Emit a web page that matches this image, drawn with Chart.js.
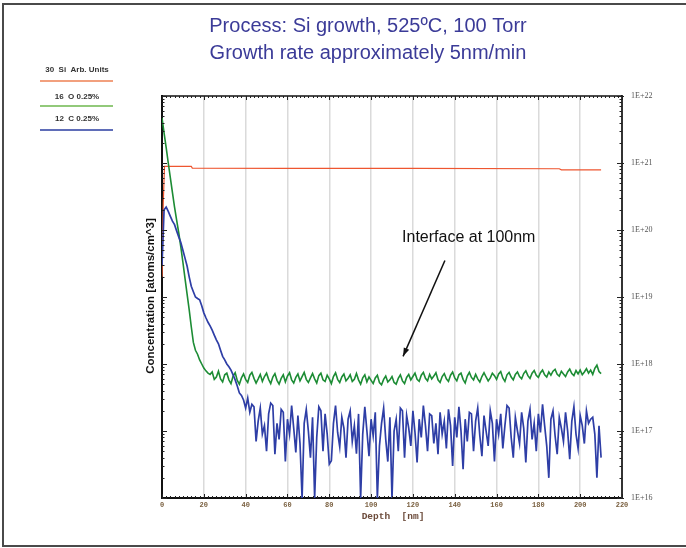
<!DOCTYPE html>
<html><head><meta charset="utf-8">
<script src="https://cdn.jsdelivr.net/npm/chart.js@4.4.1/dist/chart.umd.min.js"></script>
<style>html,body{margin:0;padding:0;background:#fff;}canvas{display:block;}</style>
</head><body>
<canvas id="c" width="686" height="548"></canvas>
<script>
// ---------- data ----------
const titleLines = ["Process: Si growth, 525\u00BAC, 100 Torr", "Growth rate approximately 5nm/min"];
const xTickLabels = ["0","20","40","60","80","100","120","140","160","180","200","220"];
const yDecadeLabels = ["1E+16","1E+17","1E+18","1E+19","1E+20","1E+21","1E+22"];
const legendLabels = ["30  Si  Arb. Units", "16  O 0.25%", "12  C 0.25%"];
const annotationText = "Interface at 100nm";

// 30Si (arbitrary units) — depth in nm and concentration
const siDepth = [0, 0.6, 1.2, 14, 14.5, 60, 120, 190, 191, 210];
const siValues = [2.0e19, 2.5e20, 8.9e20, 8.9e20, 8.4e20, 8.3e20, 8.3e20, 8.2e20, 7.9e20, 7.9e20];

// 16O, one reading per nm from 0 to 210 nm
const oxygenValues = [
  4.7e21, 2.8e21, 1.7e21, 1.0e21, 6.0e20, 3.6e20, 2.2e20, 1.4e20, 9.1e19, 5.6e19,
  3.3e19, 1.9e19, 1.1e19, 6.5e18, 3.6e18, 2.1e18, 1.6e18, 1.4e18, 1.15e18, 1.0e18,
  8.7e17, 7.9e17, 7.3e17,
  7.0e17, 7.6e17, 5.9e17, 6.4e17, 7.8e17, 6.0e17, 5.4e17,
  6.9e17, 7.3e17, 5.8e17, 5.1e17, 6.6e17, 7.4e17, 5.7e17, 5.0e17, 6.2e17, 7.1e17,
  5.9e17, 5.3e17, 6.8e17, 7.5e17, 6.1e17, 5.2e17, 6.0e17, 7.0e17, 5.5e17, 6.5e17,
  7.3e17, 5.9e17, 5.1e17, 6.4e17, 7.2e17, 5.7e17, 5.0e17, 6.1e17, 6.9e17, 5.4e17,
  6.6e17, 7.4e17, 5.8e17, 5.2e17, 6.3e17, 7.1e17, 5.6e17, 6.5e17, 7.5e17, 5.9e17,
  5.3e17, 6.2e17, 7.2e17, 6.0e17, 5.2e17, 6.7e17, 7.3e17, 5.8e17, 5.5e17, 6.8e17,
  6.0e17, 5.1e17, 6.5e17, 7.4e17, 5.9e17, 5.3e17, 6.4e17, 7.1e17, 5.6e17, 6.1e17,
  6.9e17, 5.5e17, 5.9e17, 7.2e17, 5.8e17, 5.0e17, 6.2e17, 6.9e17, 5.4e17, 6.4e17,
  5.7e17, 5.1e17, 6.2e17, 6.8e17, 5.3e17, 4.9e17, 5.9e17, 6.6e17, 5.4e17, 5.8e17,
  6.5e17, 5.3e17, 5.0e17, 6.1e17, 6.9e17, 5.6e17, 5.1e17, 6.3e17, 7.0e17, 5.8e17,
  6.5e17, 7.3e17, 5.9e17, 5.5e17, 6.8e17, 7.5e17, 6.1e17, 5.6e17, 7.0e17, 6.0e17,
  6.6e17, 7.4e17, 5.8e17, 5.3e17, 6.5e17, 7.2e17, 6.0e17, 5.5e17, 6.8e17, 7.6e17,
  6.2e17, 5.6e17, 6.9e17, 7.3e17, 5.9e17, 5.2e17, 6.6e17, 7.5e17, 6.3e17, 5.8e17,
  7.0e17, 6.0e17, 5.4e17, 6.5e17, 7.4e17, 6.4e17, 5.6e17, 6.2e17, 7.3e17, 6.7e17,
  5.9e17, 7.1e17, 7.7e17, 6.2e17, 5.5e17, 6.9e17, 7.5e17, 6.4e17, 5.8e17, 7.0e17,
  7.6e17, 6.5e17, 6.0e17, 7.2e17, 7.9e17, 6.7e17, 6.1e17, 7.3e17, 8.0e17, 6.8e17,
  6.3e17, 7.4e17, 8.1e17, 6.9e17, 6.4e17, 7.6e17, 6.8e17, 7.8e17, 8.3e17, 7.0e17,
  6.6e17, 7.8e17, 7.1e17, 6.5e17, 7.6e17, 8.4e17, 7.2e17, 6.7e17, 8.0e17, 7.1e17,
  8.1e17, 6.9e17, 7.6e17, 8.5e17, 7.3e17, 8.1e17, 7.0e17, 8.6e17, 9.6e17, 7.7e17,
  7.2e17
];

// 12C, one reading per nm from 0 to 210 nm (1e16 = no counts)
const carbonValues = [
  3.0e19, 2.0e20, 2.2e20, 1.9e20, 1.6e20, 1.36e20, 1.2e20, 9.7e19, 7.9e19, 6.5e19,
  5.0e19, 3.8e19, 2.9e19, 2.0e19, 1.45e19, 1.2e19, 1.0e19, 9.5e18, 9.1e18, 7.4e18,
  5.8e18, 4.9e18, 4.2e18, 3.7e18, 3.2e18, 2.7e18, 2.3e18, 2.0e18, 1.6e18, 1.3e18,
  1.15e18, 1.0e18, 9.1e17, 8.1e17, 6.9e17, 5.8e17, 4.7e17, 3.7e17, 3.4e17, 2.9e17,
  2.2e17, 3.1e17,
  1.9e17, 2.5e17, 2.3e17, 7.0e16, 1.4e17, 2.2e17, 9.0e16, 1.2e17,
  5.0e16, 1.8e17, 2.6e17, 2.4e17, 4.5e16, 1.3e17, 7.5e16, 2.1e17, 1.9e17, 3.5e16,
  1.5e17, 9.0e16, 2.4e17, 1.1e17, 4.8e16, 1.7e17, 6.5e16, 1.0e16, 1.3e17, 2.1e17,
  1.0e17, 4.0e16, 1.6e17, 1.0e16, 8.0e16, 2.3e17, 2.0e17, 5.0e16, 1.8e17, 9.0e16,
  3.2e16, 3.6e16, 1.3e17, 2.4e17, 9.5e16, 5.8e16, 1.6e17, 1.1e17, 4.0e16, 1.5e17,
  2.0e17, 7.0e16, 1.2e17, 4.6e16, 1.8e17, 1.0e16, 9.0e16, 2.3e17, 1.0e17, 4.2e16,
  1.5e17, 8.5e16, 1.9e17, 1.0e16, 6.0e16, 1.3e17, 2.2e17, 7.5e16, 3.5e16, 1.6e17,
  1.0e16, 1.0e17, 1.5e17, 5.0e16, 2.2e17, 2.0e17, 4.0e16, 1.7e17, 1.1e17, 6.0e16,
  2.0e17, 9.5e16, 3.4e16, 1.5e17, 8.0e16, 2.4e17, 1.2e17, 5.0e16, 1.8e17, 1.7e17,
  6.5e16, 1.3e17, 4.5e16, 1.9e17, 9.0e16, 1.4e17, 5.5e16, 2.1e17, 1.2e17, 3.0e16,
  1.6e17, 8.0e16, 2.3e17, 1.0e17, 2.7e16, 1.5e17, 7.0e16, 1.9e17, 1.8e17, 5.0e16,
  1.4e17, 2.2e17, 8.5e16, 4.2e16, 1.7e17, 1.0e17, 6.0e16, 2.0e17, 1.3e17, 3.5e16,
  1.5e17, 9.0e16, 1.8e17, 5.5e16, 1.2e17, 2.4e17, 2.2e17, 8.0e16, 4.0e16, 1.6e17,
  1.0e17, 6.5e16, 1.9e17, 1.1e17, 3.4e16, 1.4e17, 2.1e17, 7.5e16, 1.3e17, 5.0e16,
  1.8e17, 9.5e16, 2.5e17, 1.2e17, 6.0e16, 2.0e16, 1.5e17, 2.0e17, 8.5e16, 4.5e16,
  1.6e17, 1.1e17, 7.0e16, 1.9e17, 1.0e17, 3.8e16, 1.4e17, 2.3e17, 9.0e16, 5.5e16,
  1.7e17, 1.2e17, 6.5e16, 2.0e17, 1.3e17, 1.5e17, 1.6e17, 9.0e16, 2.0e16, 1.2e17,
  4.0e16
];

// annotation anchor points (depth nm, concentration)
const annotationTextAt = [114.8, 6.6e19];
const arrowFrom = [135.3, 3.5e19];
const arrowTo = [115.3, 1.3e18];

// ---------- build ----------
const oxygenDepth = oxygenValues.map((_, i) => i);
const carbonDepth = carbonValues.map((_, i) => i);
const toPts = (xs, ys) => xs.map((x, i) => ({x, y: ys[i]}));

const colors = {si: '#ee5630', o: '#1c8c34', c: '#2e3ea6'};
const legendColors = ['#f2a07e', '#92c97a', '#5f6db8'];

const overlay = {
  id: 'overlay',
  afterDraw(chart) {
    const {ctx, chartArea: a, scales} = chart;
    const xs = scales.x, ys = scales.y;
    ctx.save();
    // outer frame
    ctx.strokeStyle = '#4a4a4a'; ctx.lineWidth = 2;
    ctx.beginPath(); ctx.moveTo(690, 4); ctx.lineTo(3, 4); ctx.lineTo(3, 546); ctx.lineTo(690, 546); ctx.stroke();
    // plot top border
    ctx.strokeStyle = '#111'; ctx.lineWidth = 1.5;
    ctx.beginPath(); ctx.moveTo(a.left, a.top); ctx.lineTo(a.right, a.top); ctx.stroke();
    // x ticks (bottom up, top down)
    ctx.lineWidth = 1; ctx.strokeStyle = '#222';
    for (let d = 0; d <= 220; d += 2) {
      const px = Math.round(xs.getPixelForValue(d)) + 0.5;
      const len = d % 20 === 0 ? 4 : 2;
      ctx.beginPath();
      ctx.moveTo(px, a.bottom); ctx.lineTo(px, a.bottom - len);
      ctx.moveTo(px, a.top); ctx.lineTo(px, a.top + len);
      ctx.stroke();
    }
    // y ticks (log minor)
    for (let e = 16; e <= 22; e++) {
      for (let m = 1; m <= 9; m++) {
        const v = m * Math.pow(10, e);
        if (v > 1e22) break;
        const py = Math.round(ys.getPixelForValue(v)) + 0.5;
        const len = m === 1 ? 5 : 2.5;
        ctx.beginPath();
        ctx.moveTo(a.left, py); ctx.lineTo(a.left + len, py);
        ctx.moveTo(a.right - len, py); ctx.lineTo(a.right + (m === 1 ? 2 : 0), py);
        ctx.stroke();
      }
    }
    // title
    ctx.fillStyle = '#3b3b98';
    ctx.font = '20px "Liberation Sans", Arial, sans-serif';
    ctx.textAlign = 'center'; ctx.textBaseline = 'alphabetic';
    ctx.fillText(titleLines[0], 368, 32);
    ctx.fillText(titleLines[1], 368, 59);
    // y title
    ctx.save();
    ctx.translate(151, 296); ctx.rotate(-Math.PI / 2);
    ctx.fillStyle = '#111';
    ctx.font = 'bold 11.5px "Liberation Sans", Arial, sans-serif';
    ctx.textBaseline = 'middle';
    ctx.fillText('Concentration [atoms/cm^3]', 0, 0);
    ctx.restore();
    // x title
    ctx.fillStyle = '#6b4a3a';
    ctx.font = 'bold 9.5px "Liberation Mono", "DejaVu Sans Mono", monospace';
    ctx.textAlign = 'center'; ctx.textBaseline = 'alphabetic';
    ctx.fillText('Depth  [nm]', 393, 519);
    // legend
    const ly = [[70, 81], [97, 106], [119, 130]];
    ctx.font = 'bold 8px "Liberation Sans", Arial, sans-serif';
    legendLabels.forEach((t, i) => {
      ctx.fillStyle = '#333';
      ctx.textBaseline = 'middle';
      ctx.fillText(t, 77, ly[i][0]);
      ctx.strokeStyle = legendColors[i]; ctx.lineWidth = 2;
      ctx.beginPath(); ctx.moveTo(40, ly[i][1]); ctx.lineTo(113, ly[i][1]); ctx.stroke();
    });
    // annotation
    ctx.fillStyle = '#111';
    ctx.font = '16px "Liberation Sans", Arial, sans-serif';
    ctx.textAlign = 'left'; ctx.textBaseline = 'alphabetic';
    ctx.fillText(annotationText, xs.getPixelForValue(annotationTextAt[0]), ys.getPixelForValue(annotationTextAt[1]));
    const x1 = xs.getPixelForValue(arrowFrom[0]), y1 = ys.getPixelForValue(arrowFrom[1]);
    const x2 = xs.getPixelForValue(arrowTo[0]), y2 = ys.getPixelForValue(arrowTo[1]);
    ctx.strokeStyle = '#111'; ctx.lineWidth = 1.5;
    ctx.beginPath(); ctx.moveTo(x1, y1); ctx.lineTo(x2, y2); ctx.stroke();
    const ang = Math.atan2(y2 - y1, x2 - x1), hl = 9;
    ctx.fillStyle = '#111';
    ctx.beginPath();
    ctx.moveTo(x2, y2);
    ctx.lineTo(x2 - hl * Math.cos(ang - 0.33), y2 - hl * Math.sin(ang - 0.33));
    ctx.lineTo(x2 - hl * Math.cos(ang + 0.33), y2 - hl * Math.sin(ang + 0.33));
    ctx.closePath(); ctx.fill();
    ctx.restore();
  }
};

new Chart(document.getElementById('c'), {
  type: 'line',
  data: {
    datasets: [
      {label: legendLabels[0], data: toPts(siDepth, siValues), borderColor: colors.si, borderWidth: 1.2, pointRadius: 0, order: 3},
      {label: legendLabels[1], data: toPts(oxygenDepth, oxygenValues), borderColor: colors.o, borderWidth: 1.6, pointRadius: 0, order: 2},
      {label: legendLabels[2], data: toPts(carbonDepth, carbonValues), borderColor: colors.c, borderWidth: 1.7, pointRadius: 0, order: 1}
    ]
  },
  options: {
    responsive: false,
    animation: false,
    devicePixelRatio: 1,
    layout: {padding: {top: 96, left: 0, right: 0, bottom: 0}},
    plugins: {legend: {display: false}, tooltip: {enabled: false}, title: {display: false}},
    elements: {line: {tension: 0}},
    scales: {
      x: {
        type: 'linear', min: 0, max: 220,
        afterFit(s) { s.height = 50; },
        afterBuildTicks(s) { s.ticks = xTickLabels.map(t => ({value: Number(t)})); },
        ticks: {
          autoSkip: false, maxRotation: 0, padding: 3,
          color: '#7a6040',
          font: {family: '"Liberation Mono", monospace', size: 7, weight: 'bold'},
          callback: (v) => xTickLabels.find(t => Number(t) === v) || ''
        },
        grid: {
          drawTicks: false, lineWidth: 1.5,
          color: (c) => (c.tick && (c.tick.value === 0 || c.tick.value === 220)) ? 'rgba(0,0,0,0)' : '#dadada'
        },
        border: {color: '#111', width: 2}
      },
      y: {
        type: 'logarithmic', position: 'left', min: 1e16, max: 1e22,
        afterFit(s) { s.width = 162; },
        ticks: {display: false},
        grid: {display: false, drawTicks: false},
        border: {color: '#111', width: 2}
      },
      y2: {
        type: 'logarithmic', position: 'right', min: 1e16, max: 1e22,
        afterFit(s) { s.width = 64; },
        afterBuildTicks(s) { s.ticks = yDecadeLabels.map(t => ({value: Number(t.replace('E+', 'e'))})); },
        ticks: {
          autoSkip: false, padding: 9, color: '#555',
          font: {family: '"Liberation Serif", serif', size: 8},
          callback: (v) => yDecadeLabels.find(t => Number(t.replace('E+', 'e')) === v) || ''
        },
        grid: {drawOnChartArea: false, drawTicks: false},
        border: {color: '#333', width: 2}
      }
    }
  },
  plugins: [overlay]
});
</script>
</body></html>
